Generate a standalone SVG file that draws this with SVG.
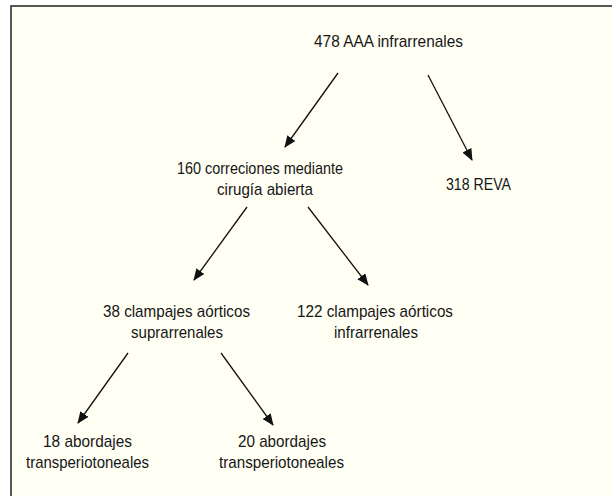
<svg xmlns="http://www.w3.org/2000/svg" width="612" height="496" viewBox="0 0 612 496">
<defs>
<style>
.t{font-family:"Liberation Sans",Arial,sans-serif;font-size:17px;fill:#161616}
.c{stroke:#111;stroke-width:1.3;fill:none;marker-end:url(#ah)}
</style>
<marker id="ah" viewBox="0 0 12 10" refX="11" refY="5" markerWidth="12" markerHeight="10" markerUnits="userSpaceOnUse" orient="auto">
<path d="M0,0 L12,5 L0,10 Z" fill="#111"/>
</marker>
</defs>
<rect x="0" y="0" width="612" height="496" fill="#ffffff"/>
<rect x="11" y="6" width="610" height="500" fill="#fffff4" stroke="#222" stroke-width="1.5"/>
<g id="n1"><text class="t" x="314" y="47" textLength="149" lengthAdjust="spacingAndGlyphs">478 AAA infrarrenales</text></g>
<g id="n2"><text class="t" x="177" y="174" textLength="166" lengthAdjust="spacingAndGlyphs">160 correciones mediante</text><text class="t" x="217" y="195" textLength="96" lengthAdjust="spacingAndGlyphs">cirugía abierta</text></g>
<g id="n3"><text class="t" x="446" y="190" textLength="65" lengthAdjust="spacingAndGlyphs">318 REVA</text></g>
<g id="n4"><text class="t" x="103" y="317" textLength="147" lengthAdjust="spacingAndGlyphs">38 clampajes aórticos</text><text class="t" x="131" y="338" textLength="92" lengthAdjust="spacingAndGlyphs">suprarrenales</text></g>
<g id="n5"><text class="t" x="297" y="317" textLength="156" lengthAdjust="spacingAndGlyphs">122 clampajes aórticos</text><text class="t" x="334" y="338" textLength="84" lengthAdjust="spacingAndGlyphs">infrarrenales</text></g>
<g id="n6"><text class="t" x="43" y="447" textLength="89" lengthAdjust="spacingAndGlyphs">18 abordajes</text><text class="t" x="26" y="468" textLength="123" lengthAdjust="spacingAndGlyphs">transperiotoneales</text></g>
<g id="n7"><text class="t" x="238" y="447" textLength="88" lengthAdjust="spacingAndGlyphs">20 abordajes</text><text class="t" x="219" y="468" textLength="125" lengthAdjust="spacingAndGlyphs">transperiotoneales</text></g>
<g id="connectors">
<line class="c" x1="338" y1="73" x2="285" y2="147"/>
<line class="c" x1="428" y1="75" x2="472" y2="160"/>
<line class="c" x1="247" y1="207" x2="194" y2="280"/>
<line class="c" x1="308" y1="207" x2="368" y2="285"/>
<line class="c" x1="128" y1="353" x2="78" y2="423"/>
<line class="c" x1="221" y1="353" x2="273" y2="425"/>
</g>
</svg>
